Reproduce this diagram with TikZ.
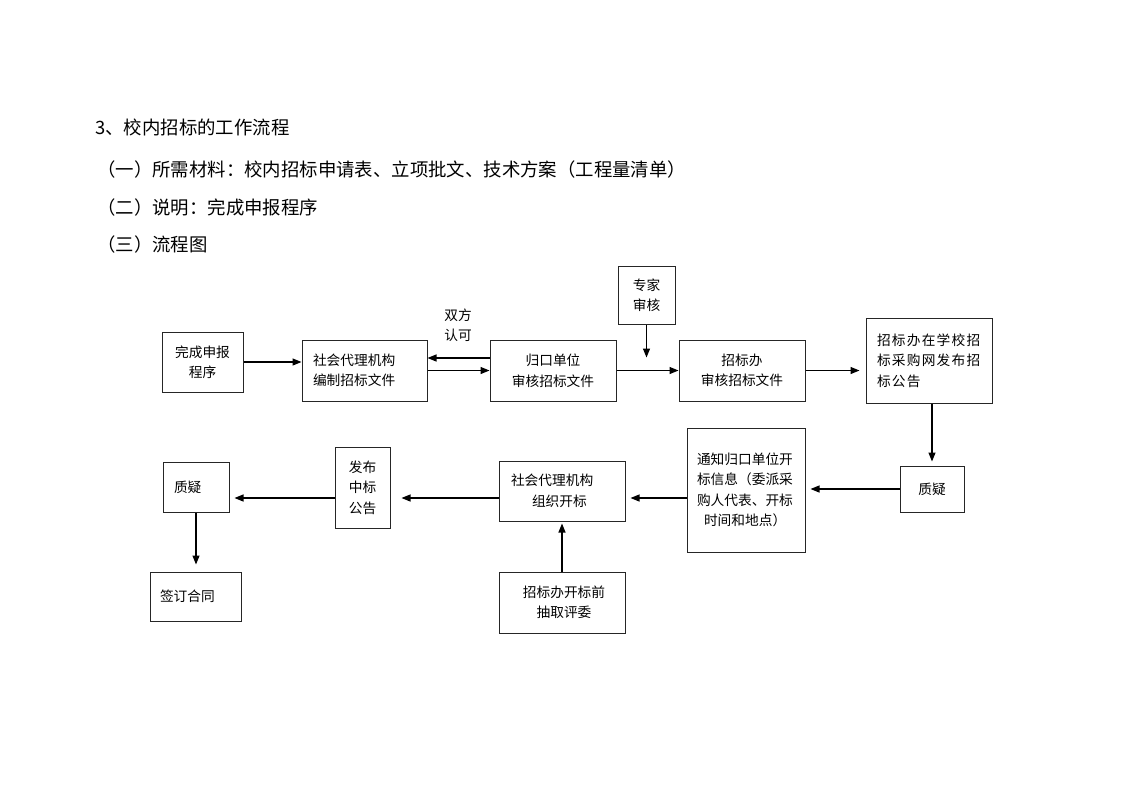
\documentclass[tikz,border=0pt]{standalone}
\usepackage{fontspec}
\setmainfont{Noto Sans CJK SC}
\newfontfamily\cjkwide[LetterSpace=9]{Noto Sans CJK SC}
\usetikzlibrary{arrows.meta}
\begin{document}
\begin{tikzpicture}[x=1pt,y=-1pt,
  box/.style={draw=black!85,line width=1pt,inner ysep=0pt,minimum height=#1,font=\fontsize{13.7}{20.5}\selectfont},
  box/.default=60pt,
  arr/.style={line width=1.2pt,-{Triangle[length=9pt,width=7pt]}},
  head/.style={anchor=west,inner sep=0pt,font=\fontsize{18.4}{22}\selectfont}]
\useasboundingbox[fill=white] (0,0) rectangle (1122,793);
% heading text
\node[head] (h1) at (95,127) {3、校内招标的工作流程};
\node[head] (h2) at (97,170) {（一）所需材料：校内招标申请表、立项批文、技术方案（工程量清单）};
\node[head] (h3) at (97,208) {（二）说明：完成申报程序};
\node[head] (h4) at (97,245) {（三）流程图};
% row 1
\node[box=60pt,minimum width=81pt,align=center] (b1) at (202.5,362) {完成申报\\程序};
\node[box=61pt,text width=103pt,inner xsep=11pt,align=left] (b2) at (364.5,370.5) {社会代理机构\\编制招标文件};
\node[box=61pt,minimum width=126pt,align=center] (b3) at (553,370.5) {归口单位\\审核招标文件};
\node[box=58pt,minimum width=57pt,align=center] (b4) at (646.5,295) {专家\\审核};
\node[box=61pt,minimum width=126pt,align=center] (b5) at (742,370.5) {招标办\\审核招标文件};
\node[box=85pt,text width=104pt,inner xsep=11pt,align=left] (b6) at (929,360.5) {\cjkwide 招标办在学校招\\标采购网发布招\\标公告};
% row 2
\node[box=46pt,minimum width=64pt,align=center] (b7) at (932,489) {质疑};
\node[box=124pt,text width=98pt,inner xsep=10pt,align=left] (b8) at (746,490) {通知归口单位开\\标信息（委派采\\购人代表、开标\\\hspace*{7pt}时间和地点）};
\node[box=60pt,text width=102pt,inner xsep=12pt,align=left] (b9) at (562,491) {社会代理机构\\\hspace*{21pt}组织开标};
\node[box=81pt,minimum width=55pt,align=center] (b11) at (362.5,487.5) {发布\\中标\\公告};
\node[box=50pt,text width=44pt,inner xsep=11pt,align=left] (b12) at (196,487) {质疑};
\node[box=61pt,text width=106pt,inner xsep=10pt,align=center] (b10) at (562,602.5) {\hspace*{4pt}招标办开标前\\\hspace*{4pt}抽取评委};
\node[box=49pt,text width=71pt,inner xsep=10pt,align=left] (b13) at (195.5,596.5) {签订合同};
% label
\node[align=center,font=\fontsize{13.7}{20.5}\selectfont,inner sep=0pt] (lab) at (458,325) {双方\\认可};
% connectors
\draw[arr] (b1.east) -- (b1.east -| b2.west);
\draw[arr] ([yshift=12.5pt]b3.west) -- ([yshift=12.5pt]b3.west -| b2.east);
\draw[arr] (b2.east) -- (b3.west);
\draw[arr] (b3.east) -- (b5.west);
\draw[arr] (b4.south) -- ([yshift=-18pt]b4.south |- b5.north);
\draw[arr,shorten >=6pt] (b5.east) -- (b5.east -| b6.west);
\draw[arr,shorten >=4pt] (b6.south -| b7.north) -- (b7.north);
\draw[arr,shorten >=5pt] (b7.west) -- (b7.west -| b8.east);
\draw[arr,shorten >=5pt] ([yshift=-8pt]b8.west) -- ([yshift=-8pt]b8.west -| b9.east);
\draw[arr,shorten >=11pt] ([yshift=-7pt]b9.west) -- ([yshift=-7pt]b9.west -| b11.east);
\draw[arr,shorten >=5pt] ([yshift=-10.5pt]b11.west) -- ([yshift=-10.5pt]b11.west -| b12.east);
\draw[arr,shorten >=7pt] (b12.south) -- (b12.south |- b13.north);
\draw[arr,shorten >=2pt] (b10.north) -- (b9.south);
\end{tikzpicture}
\end{document}
